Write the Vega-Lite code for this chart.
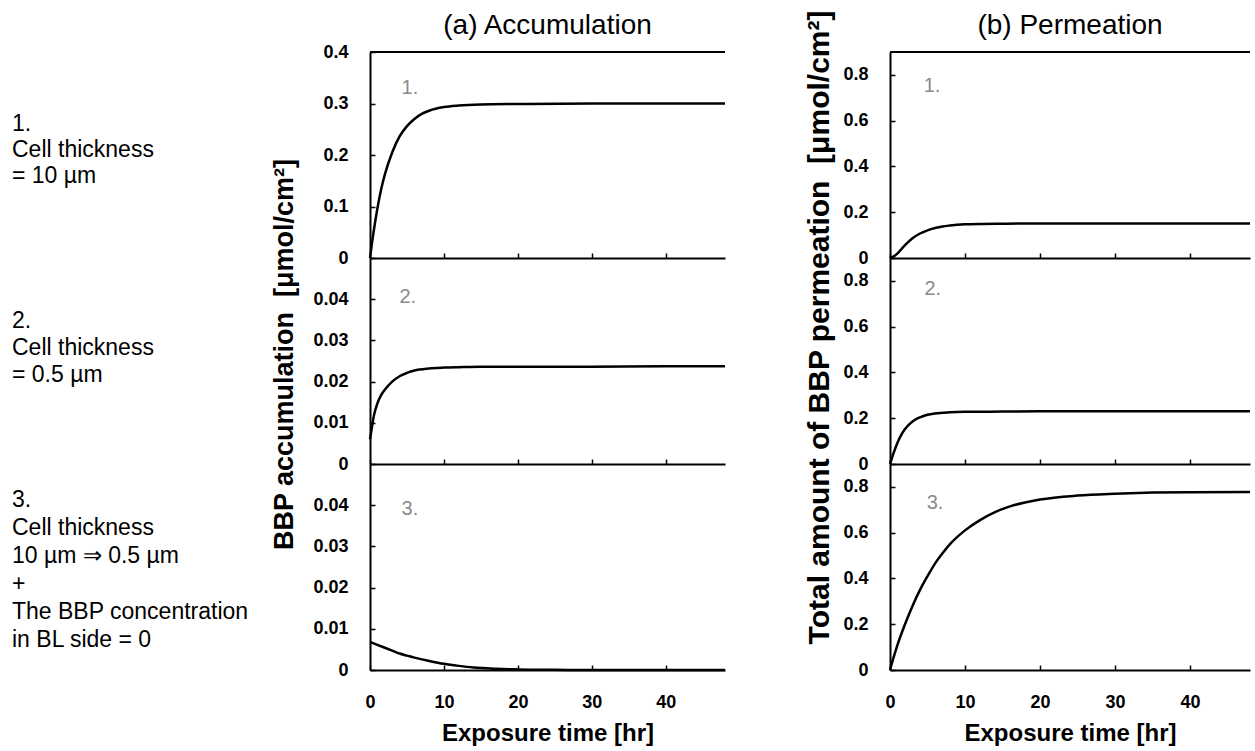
{
  "$schema": "https://vega.github.io/schema/vega-lite/v6.json",
  "background": "white",
  "padding": {"left": 12, "top": 9, "right": 0, "bottom": 4},
  "config": {
    "font": "Liberation Sans",
    "view": {"stroke": null},
    "axis": {
      "domainColor": "black", "domainWidth": 2,
      "tickColor": "black", "tickWidth": 1.5, "tickSize": -5,
      "labelFont": "Liberation Sans", "labelFontSize": 18, "labelFontWeight": "bold", "labelColor": "black",
      "labelFlush": false, "grid": false,
      "titleColor": "black", "titleFont": "Liberation Sans"
    },
    "axisX": {"labelPadding": 28},
    "axisY": {"labelPadding": 27},
    "title": {"fontSize": 28, "fontWeight": "normal", "color": "black", "frame": "group", "anchor": "middle", "baseline": "alphabetic", "font": "Liberation Sans"}
  },
  "datasets": {
    "notes": [
      {"id": 1, "label": "1.\nCell thickness\n= 10 µm"},
      {"id": 2, "label": "2.\nCell thickness\n= 0.5 µm"},
      {"id": 3, "label": "3.\nCell thickness\n10 µm ⇒ 0.5 µm\n+\nThe BBP concentration\nin BL side = 0"}
    ],
    "curves": [
      {"series": "a1", "t": 0, "v": 0},
      {"series": "a1", "t": 0.25, "v": 0.027},
      {"series": "a1", "t": 0.5, "v": 0.052},
      {"series": "a1", "t": 1, "v": 0.096},
      {"series": "a1", "t": 1.5, "v": 0.133},
      {"series": "a1", "t": 2, "v": 0.162},
      {"series": "a1", "t": 3, "v": 0.205},
      {"series": "a1", "t": 4, "v": 0.236},
      {"series": "a1", "t": 5, "v": 0.256},
      {"series": "a1", "t": 6, "v": 0.270},
      {"series": "a1", "t": 7, "v": 0.280},
      {"series": "a1", "t": 8, "v": 0.286},
      {"series": "a1", "t": 10, "v": 0.293},
      {"series": "a1", "t": 12, "v": 0.296},
      {"series": "a1", "t": 15, "v": 0.298},
      {"series": "a1", "t": 20, "v": 0.299},
      {"series": "a1", "t": 30, "v": 0.300},
      {"series": "a1", "t": 40, "v": 0.300},
      {"series": "a1", "t": 48, "v": 0.300},
      {"series": "a2", "t": 0, "v": 0.0060},
      {"series": "a2", "t": 0.25, "v": 0.0088},
      {"series": "a2", "t": 0.5, "v": 0.0115},
      {"series": "a2", "t": 1, "v": 0.0147},
      {"series": "a2", "t": 1.5, "v": 0.0167},
      {"series": "a2", "t": 2, "v": 0.0180},
      {"series": "a2", "t": 3, "v": 0.0200},
      {"series": "a2", "t": 4, "v": 0.0213},
      {"series": "a2", "t": 5, "v": 0.0221},
      {"series": "a2", "t": 6, "v": 0.0227},
      {"series": "a2", "t": 8, "v": 0.0232},
      {"series": "a2", "t": 10, "v": 0.0234},
      {"series": "a2", "t": 12, "v": 0.0235},
      {"series": "a2", "t": 15, "v": 0.0236},
      {"series": "a2", "t": 20, "v": 0.0236},
      {"series": "a2", "t": 30, "v": 0.0236},
      {"series": "a2", "t": 40, "v": 0.0237},
      {"series": "a2", "t": 48, "v": 0.0237},
      {"series": "a3", "t": 0, "v": 0.0068},
      {"series": "a3", "t": 1, "v": 0.0061},
      {"series": "a3", "t": 2, "v": 0.0054},
      {"series": "a3", "t": 3, "v": 0.0047},
      {"series": "a3", "t": 4, "v": 0.0040},
      {"series": "a3", "t": 5, "v": 0.0035},
      {"series": "a3", "t": 6, "v": 0.0030},
      {"series": "a3", "t": 8, "v": 0.0022},
      {"series": "a3", "t": 10, "v": 0.0015},
      {"series": "a3", "t": 12, "v": 0.0010},
      {"series": "a3", "t": 14, "v": 0.0006},
      {"series": "a3", "t": 17, "v": 0.0003},
      {"series": "a3", "t": 20, "v": 0.00015},
      {"series": "a3", "t": 25, "v": 0.00005},
      {"series": "a3", "t": 30, "v": 0},
      {"series": "a3", "t": 40, "v": 0},
      {"series": "a3", "t": 48, "v": 0},
      {"series": "b1", "t": 0, "v": 0},
      {"series": "b1", "t": 0.5, "v": 0.007},
      {"series": "b1", "t": 1, "v": 0.020},
      {"series": "b1", "t": 1.5, "v": 0.038},
      {"series": "b1", "t": 2, "v": 0.056},
      {"series": "b1", "t": 3, "v": 0.086},
      {"series": "b1", "t": 4, "v": 0.107},
      {"series": "b1", "t": 5, "v": 0.121},
      {"series": "b1", "t": 6, "v": 0.131},
      {"series": "b1", "t": 7, "v": 0.138},
      {"series": "b1", "t": 8, "v": 0.142},
      {"series": "b1", "t": 10, "v": 0.147},
      {"series": "b1", "t": 12, "v": 0.149},
      {"series": "b1", "t": 15, "v": 0.150},
      {"series": "b1", "t": 20, "v": 0.151},
      {"series": "b1", "t": 30, "v": 0.151},
      {"series": "b1", "t": 40, "v": 0.151},
      {"series": "b1", "t": 48, "v": 0.151},
      {"series": "b2", "t": 0, "v": 0},
      {"series": "b2", "t": 0.25, "v": 0.025},
      {"series": "b2", "t": 0.5, "v": 0.050},
      {"series": "b2", "t": 1, "v": 0.093},
      {"series": "b2", "t": 1.5, "v": 0.127},
      {"series": "b2", "t": 2, "v": 0.153},
      {"series": "b2", "t": 3, "v": 0.186},
      {"series": "b2", "t": 4, "v": 0.204},
      {"series": "b2", "t": 5, "v": 0.215},
      {"series": "b2", "t": 6, "v": 0.221},
      {"series": "b2", "t": 8, "v": 0.226},
      {"series": "b2", "t": 10, "v": 0.228},
      {"series": "b2", "t": 15, "v": 0.229},
      {"series": "b2", "t": 20, "v": 0.230},
      {"series": "b2", "t": 30, "v": 0.230},
      {"series": "b2", "t": 48, "v": 0.230},
      {"series": "b3", "t": 0, "v": 0},
      {"series": "b3", "t": 0.5, "v": 0.057},
      {"series": "b3", "t": 1, "v": 0.110},
      {"series": "b3", "t": 2, "v": 0.200},
      {"series": "b3", "t": 3, "v": 0.280},
      {"series": "b3", "t": 4, "v": 0.350},
      {"series": "b3", "t": 5, "v": 0.410},
      {"series": "b3", "t": 6, "v": 0.465},
      {"series": "b3", "t": 7, "v": 0.510},
      {"series": "b3", "t": 8, "v": 0.550},
      {"series": "b3", "t": 10, "v": 0.610},
      {"series": "b3", "t": 12, "v": 0.655},
      {"series": "b3", "t": 14, "v": 0.690},
      {"series": "b3", "t": 16, "v": 0.715},
      {"series": "b3", "t": 18, "v": 0.732},
      {"series": "b3", "t": 20, "v": 0.745},
      {"series": "b3", "t": 25, "v": 0.762},
      {"series": "b3", "t": 30, "v": 0.770},
      {"series": "b3", "t": 35, "v": 0.775},
      {"series": "b3", "t": 40, "v": 0.777},
      {"series": "b3", "t": 48, "v": 0.778}
    ]
  },
  "columns": 3,
  "align": "each",
  "bounds": "flush",
  "spacing": {"row": 0, "column": 165},
  "concat": [
    {
      "width": 193, "height": 206,
      "data": {"name": "notes"},
      "transform": [{"filter": "datum.id === 1"}],
      "mark": {"type": "text", "align": "left", "baseline": "middle", "lineBreak": "\n", "fontSize": 23, "lineHeight": 26, "color": "black"},
      "encoding": {
        "text": {"field": "label", "type": "nominal"},
        "x": {"datum": 0, "type": "quantitative", "scale": {"domain": [0, 1]}, "axis": null},
        "y": {"datum": 0.65, "type": "quantitative", "scale": {"domain": [0, 1]}, "axis": null}
      }
    },
    {
      "width": 355, "height": 206,
      "title": {"text": "(a) Accumulation", "offset": 3},
      "layer": [
        {
          "data": {"name": "curves"},
          "transform": [{"filter": "datum.series === 'a1'"}],
          "mark": {"type": "line", "color": "black", "strokeWidth": 2.5, "interpolate": "monotone"},
          "encoding": {
            "x": {"field": "t", "type": "quantitative", "scale": {"domain": [0, 48], "nice": false}, "axis": {"values": [0, 10, 20, 30, 40], "labels": false, "title": null}},
            "y": {"field": "v", "type": "quantitative", "scale": {"domain": [0, 0.4], "nice": false}, "axis": {"values": [0, 0.1, 0.2, 0.3, 0.4], "format": "~g", "title": null}}
          }
        },
        {"data": {"values": [{}]}, "mark": {"type": "rule", "color": "black", "strokeWidth": 2}, "encoding": {"y": {"datum": 0.4}}},
        {"data": {"values": [{}]}, "mark": {"type": "text", "text": "1.", "fontSize": 20, "color": "#8a8a8a"}, "encoding": {"x": {"datum": 5.4}, "y": {"datum": 0.33}}}
      ]
    },
    {
      "width": 360, "height": 206,
      "title": {"text": "(b) Permeation", "offset": 11},
      "layer": [
        {
          "data": {"name": "curves"},
          "transform": [{"filter": "datum.series === 'b1'"}],
          "mark": {"type": "line", "color": "black", "strokeWidth": 2.5, "interpolate": "monotone"},
          "encoding": {
            "x": {"field": "t", "type": "quantitative", "scale": {"domain": [0, 48], "nice": false}, "axis": {"values": [0, 10, 20, 30, 40], "labels": false, "title": null}},
            "y": {"field": "v", "type": "quantitative", "scale": {"domain": [0, 0.9], "nice": false}, "axis": {"values": [0, 0.2, 0.4, 0.6, 0.8], "format": "~g", "title": null}}
          }
        },
        {"data": {"values": [{}]}, "mark": {"type": "rule", "color": "black", "strokeWidth": 2}, "encoding": {"y": {"datum": 0.9}}},
        {"data": {"values": [{}]}, "mark": {"type": "text", "text": "1.", "fontSize": 20, "color": "#8a8a8a"}, "encoding": {"x": {"datum": 5.6}, "y": {"datum": 0.75}}}
      ]
    },
    {
      "width": 193, "height": 206,
      "data": {"name": "notes"},
      "transform": [{"filter": "datum.id === 2"}],
      "mark": {"type": "text", "align": "left", "baseline": "middle", "lineBreak": "\n", "fontSize": 23, "lineHeight": 27, "color": "black"},
      "encoding": {
        "text": {"field": "label", "type": "nominal"},
        "x": {"datum": 0, "type": "quantitative", "scale": {"domain": [0, 1]}, "axis": null},
        "y": {"datum": 0.694, "type": "quantitative", "scale": {"domain": [0, 1]}, "axis": null}
      }
    },
    {
      "width": 355, "height": 206,
      "layer": [
        {
          "data": {"name": "curves"},
          "transform": [{"filter": "datum.series === 'a2'"}],
          "mark": {"type": "line", "color": "black", "strokeWidth": 2.5, "interpolate": "monotone"},
          "encoding": {
            "x": {"field": "t", "type": "quantitative", "scale": {"domain": [0, 48], "nice": false}, "axis": {"values": [0, 10, 20, 30, 40], "labels": false, "title": null}},
            "y": {"field": "v", "type": "quantitative", "scale": {"domain": [0, 0.05], "nice": false}, "axis": {"values": [0, 0.01, 0.02, 0.03, 0.04], "format": "~g", "title": "BBP accumulation\u00a0 [μmol/cm²]", "titleFontSize": 27, "titleFontWeight": "bold", "titlePadding": 14, "titleY": 96}}
          }
        },
        {"data": {"values": [{}]}, "mark": {"type": "text", "text": "2.", "fontSize": 20, "color": "#8a8a8a"}, "encoding": {"x": {"datum": 5.1}, "y": {"datum": 0.0405}}}
      ]
    },
    {
      "width": 360, "height": 206,
      "layer": [
        {
          "data": {"name": "curves"},
          "transform": [{"filter": "datum.series === 'b2'"}],
          "mark": {"type": "line", "color": "black", "strokeWidth": 2.5, "interpolate": "monotone"},
          "encoding": {
            "x": {"field": "t", "type": "quantitative", "scale": {"domain": [0, 48], "nice": false}, "axis": {"values": [0, 10, 20, 30, 40], "labels": false, "title": null}},
            "y": {"field": "v", "type": "quantitative", "scale": {"domain": [0, 0.9], "nice": false}, "axis": {"values": [0, 0.2, 0.4, 0.6, 0.8], "format": "~g", "title": "Total amount of BBP permeation\u00a0 [μmol/cm²]", "titleFontSize": 30, "titleFontWeight": "bold", "titlePadding": 8, "titleY": 69}}
          }
        },
        {"data": {"values": [{}]}, "mark": {"type": "text", "text": "2.", "fontSize": 20, "color": "#8a8a8a"}, "encoding": {"x": {"datum": 5.7}, "y": {"datum": 0.765}}}
      ]
    },
    {
      "width": 193, "height": 206,
      "data": {"name": "notes"},
      "transform": [{"filter": "datum.id === 3"}],
      "mark": {"type": "text", "align": "left", "baseline": "middle", "lineBreak": "\n", "fontSize": 23, "lineHeight": 28, "color": "black"},
      "encoding": {
        "text": {"field": "label", "type": "nominal"},
        "x": {"datum": 0, "type": "quantitative", "scale": {"domain": [0, 1]}, "axis": null},
        "y": {"datum": 0.825, "type": "quantitative", "scale": {"domain": [0, 1]}, "axis": null}
      }
    },
    {
      "width": 355, "height": 206,
      "layer": [
        {
          "data": {"name": "curves"},
          "transform": [{"filter": "datum.series === 'a3'"}],
          "mark": {"type": "line", "color": "black", "strokeWidth": 2.5, "interpolate": "monotone"},
          "encoding": {
            "x": {"field": "t", "type": "quantitative", "scale": {"domain": [0, 48], "nice": false}, "axis": {"values": [0, 10, 20, 30, 40], "title": "Exposure time [hr]", "titleFontSize": 24, "titleFontWeight": "bold", "titlePadding": 10}},
            "y": {"field": "v", "type": "quantitative", "scale": {"domain": [0, 0.05], "nice": false}, "axis": {"values": [0, 0.01, 0.02, 0.03, 0.04], "format": "~g", "title": null}}
          }
        },
        {"data": {"values": [{}]}, "mark": {"type": "text", "text": "3.", "fontSize": 20, "color": "#8a8a8a"}, "encoding": {"x": {"datum": 5.4}, "y": {"datum": 0.039}}}
      ]
    },
    {
      "width": 360, "height": 206,
      "layer": [
        {
          "data": {"name": "curves"},
          "transform": [{"filter": "datum.series === 'b3'"}],
          "mark": {"type": "line", "color": "black", "strokeWidth": 2.5, "interpolate": "monotone"},
          "encoding": {
            "x": {"field": "t", "type": "quantitative", "scale": {"domain": [0, 48], "nice": false}, "axis": {"values": [0, 10, 20, 30, 40], "title": "Exposure time [hr]", "titleFontSize": 24, "titleFontWeight": "bold", "titlePadding": 10}},
            "y": {"field": "v", "type": "quantitative", "scale": {"domain": [0, 0.9], "nice": false}, "axis": {"values": [0, 0.2, 0.4, 0.6, 0.8], "format": "~g", "title": null}}
          }
        },
        {"data": {"values": [{}]}, "mark": {"type": "text", "text": "3.", "fontSize": 20, "color": "#8a8a8a"}, "encoding": {"x": {"datum": 6}, "y": {"datum": 0.73}}}
      ]
    }
  ]
}
